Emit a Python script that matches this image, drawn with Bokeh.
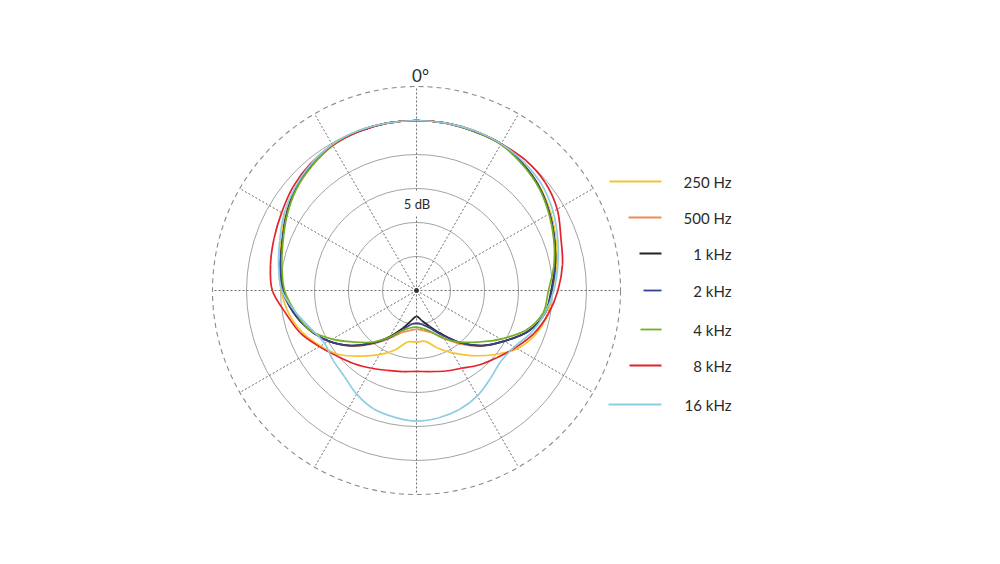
import numpy as np
from bokeh.plotting import figure
from bokeh.models import Range1d, Label
from bokeh.embed import file_html
from bokeh.resources import INLINE

# ---------------- data (dB, angle clockwise from 0° at top) ----------------
angles_deg = list(range(0, 360, 10))

resp_250 = [0.0, 0.0, -0.1, -0.1, -0.6, -1.3, -2.2, -3.2, -4.1, -5.0, -5.4, -6.3,
            -7.9, -10.3, -12.5, -14.4, -16.0, -17.4, -17.4, -17.3, -15.7, -14.1,
            -12.4, -10.3, -8.7, -7.1, -5.9, -5.1, -4.5, -3.8, -2.7, -1.7, -0.9,
            -0.2, 0.0, 0.0]
resp_500 = [0.0, 0.0, -0.1, -0.1, -0.7, -1.4, -2.4, -3.4, -4.3, -5.1, -5.8, -7.5,
            -10.1, -12.3, -14.7, -16.9, -18.4, -19.0, -19.3, -19.0, -18.4, -16.8,
            -14.7, -12.3, -10.1, -8.2, -6.6, -5.3, -4.7, -4.0, -2.9, -1.8, -1.0,
            -0.3, -0.1, 0.0]
resp_1k = [0.0, 0.0, -0.1, -0.1, -0.7, -1.4, -2.4, -3.4, -4.3, -5.2, -5.8, -7.5,
           -10.1, -12.4, -15.0, -17.6, -19.4, -20.5, -21.2, -20.5, -19.1, -17.2,
           -14.9, -12.4, -10.1, -8.2, -6.6, -5.4, -4.7, -4.0, -2.9, -1.8, -1.0,
           -0.3, -0.1, 0.0]
resp_2k = [0.0, 0.0, -0.1, -0.1, -0.7, -1.4, -2.4, -3.4, -4.3, -5.1, -5.8, -7.5,
           -10.1, -12.4, -15.0, -17.4, -19.1, -19.9, -20.2, -19.9, -18.8, -17.0,
           -14.9, -12.4, -10.1, -8.2, -6.6, -5.3, -4.7, -4.0, -2.9, -1.8, -1.0,
           -0.3, -0.1, 0.0]
resp_4k = [0.0, 0.0, -0.1, -0.2, -0.8, -1.5, -2.5, -3.5, -4.5, -5.6, -6.1, -7.9,
           -10.7, -13.2, -15.1, -16.8, -18.5, -19.3, -19.6, -19.4, -18.7, -17.1,
           -15.1, -13.2, -10.7, -8.2, -6.9, -5.6, -4.9, -4.1, -3.0, -1.9, -1.1,
           -0.4, -0.1, 0.0]
resp_8k = [0.0, 0.0, 0.0, -0.1, 0.0, -0.3, -1.1, -2.4, -3.2, -4.2, -5.3, -6.6,
           -8.2, -9.6, -10.7, -11.8, -12.4, -12.9, -13.1, -12.9, -12.5, -11.8,
           -10.9, -9.9, -8.5, -6.8, -5.5, -3.8, -3.2, -2.7, -2.1, -1.3, -0.7,
           -0.3, -0.1, 0.0]
resp_16k = [0.0, 0.0, 0.0, -0.1, -0.4, -0.9, -1.8, -2.9, -3.9, -4.8, -5.8, -7.0,
            -8.4, -8.8, -8.1, -7.1, -6.4, -6.0, -5.8, -6.1, -6.5, -7.4, -8.5,
            -9.0, -9.4, -8.5, -6.9, -5.2, -4.4, -3.6, -2.5, -1.6, -0.8, -0.2,
            0.0, 0.0]

series_labels = ["250 Hz", "500 Hz", "1 kHz", "2 kHz", "4 kHz", "8 kHz", "16 kHz"]
series_values = [resp_250, resp_500, resp_1k, resp_2k, resp_4k, resp_8k, resp_16k]

ring_db = [-20, -15, -10, -5, 0]      # solid rings
outer_ring_db = 5                     # dashed outer ring
db_floor = -25                        # centre of plot
spoke_angles = list(range(0, 360, 30))
ring_label = "5 dB"
angle_label = "0°"

# ---------------- styles / layout ----------------
colors = ["#f4c430", "#ef8c55", "#222222", "#33428f", "#74b01f", "#e3222a", "#8dcde4"]
legend_line_len = [52, 33, 22, 18, 21, 32, 53]   # px
legend_y_px = [181, 217, 253, 290, 329, 365, 404]
FONT = "Lato"
TEXT_COLOR = "#2a2a2a"

S = 6.8                # px per dB
CX, CY = 416, 290      # centre of the polar plot in canvas px
W, H = 980, 540

def px_x(px):
    return (px - CX) / S

def px_y(py):
    return (CY - py) / S

p = figure(width=W, height=H, output_backend="svg", toolbar_location=None,
           x_axis_location=None, y_axis_location=None, min_border=0,
           x_range=Range1d(-CX / S, (W - CX) / S),
           y_range=Range1d(-(H - CY) / S, CY / S))
p.outline_line_color = None
p.grid.visible = False
p.background_fill_color = "white"
p.border_fill_color = "white"

# rings
ring_r = [d - db_floor for d in ring_db]
p.circle(x=[0] * len(ring_r), y=[0] * len(ring_r), radius=ring_r,
         fill_color=None, line_color="#a3a3a3", line_width=1)
R_out = outer_ring_db - db_floor
p.circle(x=[0], y=[0], radius=[R_out], fill_color=None,
         line_color="#8a8a8a", line_width=1.1, line_dash="5 4")

# spokes
sa = np.radians(spoke_angles)
p.segment(x0=np.zeros(len(sa)), y0=np.zeros(len(sa)),
          x1=R_out * np.sin(sa), y1=R_out * np.cos(sa),
          line_color="#6e6e6e", line_width=1, line_dash="2 2")

# "5 dB" label on a white patch that interrupts the spoke
p.rect(x=[px_x(416.5)], y=[px_y(203)], width=26, height=24,
       width_units="screen", height_units="screen",
       fill_color="white", line_color=None)
p.add_layout(Label(x=px_x(416.5), y=px_y(203), text=ring_label, text_align="center",
                   text_baseline="middle", text_font=FONT, text_font_size="13px",
                   text_color=TEXT_COLOR))
p.add_layout(Label(x=px_x(420), y=px_y(75), text=angle_label, text_align="center",
                   text_baseline="middle", text_font=FONT, text_font_size="17px",
                   text_color=TEXT_COLOR))

# centre dot
p.scatter(x=[0], y=[0], size=4, color="#333333")

# response curves: smooth closed curves (cubic Bezier through the read points)
th = np.radians(angles_deg)
for vals, col in zip(series_values, colors):
    r = np.array(vals) - db_floor
    x = r * np.sin(th)
    y = r * np.cos(th)
    xn, yn = np.roll(x, -1), np.roll(y, -1)
    xp, yp = np.roll(x, 1), np.roll(y, 1)
    xn2, yn2 = np.roll(x, -2), np.roll(y, -2)
    p.bezier(x0=x, y0=y, x1=xn, y1=yn,
             cx0=x + (xn - xp) / 6, cy0=y + (yn - yp) / 6,
             cx1=xn - (xn2 - x) / 6, cy1=yn - (yn2 - y) / 6,
             line_color=col, line_width=1.7)

# legend (manual, matches reference layout)
x_end = 661
for lab, col, ln, ly in zip(series_labels, colors, legend_line_len, legend_y_px):
    p.segment(x0=[px_x(x_end - ln)], y0=[px_y(ly)], x1=[px_x(x_end)], y1=[px_y(ly)],
              line_color=col, line_width=1.8)
    p.add_layout(Label(x=px_x(731), y=px_y(ly), text=lab, text_align="right",
                       text_baseline="middle", text_font=FONT, text_font_size="15px",
                       text_color=TEXT_COLOR))

open("out.html", "w").write(file_html(p, INLINE))
